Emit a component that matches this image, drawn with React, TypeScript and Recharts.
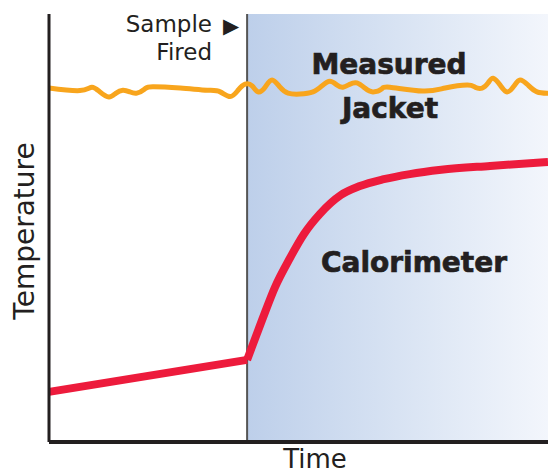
import React from 'react';
import { LineChart, Line, XAxis, YAxis, ReferenceArea, ReferenceLine } from 'recharts';

// time axis runs 0..100, sample fired at ~39.7
const FIRE_TIME = 39.7;

const jacketTime = [0, 6.2, 8.6, 10.2, 12.0, 13.4, 14.8, 16.2, 17.6, 19.2, 20.8, 26.3, 31.7, 34.3, 36.3, 37.9, 39.3, 40.7, 41.9, 43.3, 44.7, 46.3, 47.9, 50.3, 52.9, 54.7, 56.3, 57.7, 58.9, 60.3, 61.7, 63.3, 64.9, 66.7, 68.3, 74.9, 79.4, 83.8, 85.4, 86.8, 88.0, 89.0, 90.4, 91.8, 93.2, 94.4, 96.0, 97.8, 100];
const jacketTemp = [82.7, 82.1, 82.9, 81.8, 80.6, 81.5, 82.2, 81.8, 81.5, 82.5, 83.0, 82.7, 82.2, 81.8, 80.7, 82.2, 83.6, 83.2, 81.8, 82.9, 84.6, 82.9, 81.5, 81.3, 81.8, 83.2, 84.3, 83.4, 82.9, 83.6, 83.9, 82.7, 81.8, 82.5, 82.9, 82.0, 82.7, 83.4, 82.9, 82.7, 83.9, 85.0, 83.4, 81.8, 83.2, 84.6, 83.4, 81.8, 81.5];

const preFireTime = [0, 39.7];
const preFireTemp = [11.7, 19.2];

const postFireTime = [39.7, 42.7, 45.3, 48.3, 51.1, 54.3, 58.5, 62.3, 67.1, 72.3, 78.6, 88.4, 100];
const postFireTemp = [19.2, 28.5, 36.2, 43.0, 48.6, 53.3, 57.7, 59.8, 61.4, 62.6, 63.6, 64.5, 65.4];

const jacketData = jacketTime.map((t, i) => ({ t, v: jacketTemp[i] }));
const preData = preFireTime.map((t, i) => ({ t, v: preFireTemp[i] }));
const postData = postFireTime.map((t, i) => ({ t, v: postFireTemp[i] }));

const ink = '#231f20';
const plain = { fontFamily: "'DejaVu Sans', sans-serif", fill: ink };
const heavy = { fontFamily: "'DejaVu Sans', sans-serif", fontWeight: 700, fill: ink, stroke: ink, strokeWidth: 0.7 };

// annotation layer, drawn over the chart so the shaded area can't hide it
const Labels = () => (
  <svg width={548} height={474} style={{ position: 'absolute', left: 0, top: 0, pointerEvents: 'none' }}>
    <text x={212} y={32} fontSize={23} textAnchor="end" style={plain}>Sample</text>
    <text x={231} y={33} fontSize={21} textAnchor="middle" style={plain}>▶</text>
    <text x={212} y={60} fontSize={23} textAnchor="end" style={plain}>Fired</text>
    <text x={389} y={74} fontSize={28} textAnchor="middle" style={heavy}>Measured</text>
    <text x={390} y={118} fontSize={28} textAnchor="middle" style={heavy}>Jacket</text>
    <text x={414} y={272} fontSize={28} textAnchor="middle" style={heavy}>Calorimeter</text>
    <text x={315} y={468} fontSize={26} textAnchor="middle" style={plain}>Time</text>
    <text x={0} y={0} fontSize={28} textAnchor="middle" transform="translate(34,231) rotate(-90)" style={plain}>Temperature</text>
  </svg>
);

export default function App() {
  return (
    <div style={{ position: 'absolute', left: 0, top: 0, width: 548, height: 474, background: '#fff' }}>
      <LineChart width={548} height={474} margin={{ top: 14, right: 0, bottom: 0, left: 0 }}>
        <defs>
          <linearGradient id="fired" x1="0" y1="0" x2="1" y2="0">
            <stop offset="0%" stopColor="#bdcfea" />
            <stop offset="50%" stopColor="#d8e3f3" />
            <stop offset="100%" stopColor="#f3f6fc" />
          </linearGradient>
        </defs>
        <XAxis
          type="number"
          dataKey="t"
          domain={[0, 100]}
          height={32}
          tick={false}
          tickLine={false}
          axisLine={{ stroke: ink, strokeWidth: 4 }}
        />
        <YAxis
          type="number"
          dataKey="v"
          domain={[0, 100]}
          width={49}
          tick={false}
          tickLine={false}
          axisLine={{ stroke: ink, strokeWidth: 3 }}
        />
        <ReferenceArea x1={FIRE_TIME} x2={100} y1={0} y2={100} fill="url(#fired)" fillOpacity={1} stroke="none" />
        <ReferenceLine x={FIRE_TIME} stroke="#555" strokeWidth={2} />
        <Line
          data={jacketData}
          dataKey="v"
          type="natural"
          stroke="#f8a51d"
          strokeWidth={5}
          dot={false}
          isAnimationActive={false}
        />
        <Line
          data={preData}
          dataKey="v"
          type="linear"
          stroke="#ed1b3c"
          strokeWidth={8}
          dot={false}
          isAnimationActive={false}
        />
        <Line
          data={postData}
          dataKey="v"
          type="monotone"
          stroke="#ed1b3c"
          strokeWidth={8}
          dot={false}
          isAnimationActive={false}
        />
      </LineChart>
      <Labels />
    </div>
  );
}
